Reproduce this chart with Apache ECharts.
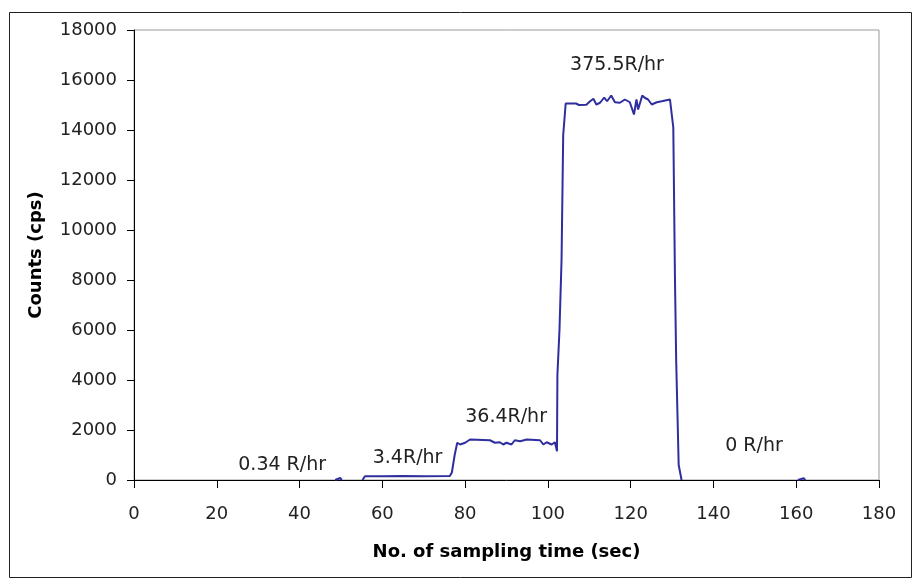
<!DOCTYPE html>
<html>
<head>
<meta charset="utf-8">
<script src="https://cdn.jsdelivr.net/npm/echarts@6/dist/echarts.min.js"></script>
<style>
  html, body { margin: 0; padding: 0; background: #fff; }
  #chart { width: 915px; height: 588px; }
</style>
</head>
<body>
<div id="chart"></div>
<script>
// sampling time (sec) and counts (cps), null = gap (count at 0, hidden by axis)
const times = [
  48.6, 49.0, 49.8, 50.2, 52,
  55.2, 55.8, 60, 65, 70, 76.3, 76.8, 77.5, 78.1, 78.8, 80.0, 81.2, 86.0, 87.2, 88.4,
  89.2, 90.0, 91.2, 92.0, 93.3, 94.9, 98.1, 98.9, 99.7, 100.9, 101.7, 102.2, 102.3,
  102.8, 103.3, 103.7, 104.3, 106.8, 107.5, 109.3, 110.2, 111.0, 111.7, 112.6, 113.6,
  114.3, 115.3, 116.2, 117.4, 118.6, 119.8, 120.8, 121.4, 121.8, 122.8, 123.4, 124.2,
  125.1, 126.3, 127.5, 129.5, 129.9, 130.3, 130.7, 131.0, 131.6, 132.3, 140,
  160.4, 160.8, 161.8, 162.2
]
const counts = [
  0, 80, 80, 0, null,
  0, 150, 150, 160, 150, 160, 300, 1020, 1490, 1420, 1490, 1620, 1590, 1490, 1510,
  1420, 1490, 1420, 1590, 1550, 1620, 1590, 1420, 1510, 1420, 1510, 1150, 4200,
  6000, 8800, 13800, 15060, 15060, 15000, 15010, 15150, 15250, 15020, 15090, 15300,
  15150, 15380, 15110, 15090, 15220, 15110, 14620, 15220, 14820, 15380, 15290, 15220,
  15020, 15110, 15150, 15220, 15150, 14100, 8100, 4750, 600, 0, null,
  0, 70, 70, 0
]

// dose-rate labels, placed in data units
const doseLabels = ['0.34 R/hr', '3.4R/hr', '36.4R/hr', '375.5R/hr', '0 R/hr']
const doseX = [35.8, 66.1, 89.9, 116.7, 149.8]
const doseY = [580, 860, 2500, 16580, 1340]

const xTicks = { min: 0, max: 180, step: 20 }
const yTicks = { min: 0, max: 18000, step: 2000 }

const font = 'DejaVu Sans, Verdana, sans-serif'
const chart = echarts.init(document.getElementById('chart'))

const seriesData = times.map((t, i) => [t, counts[i]])
const labelData = doseLabels.map((name, i) => ({
  name,
  coord: [doseX[i], doseY[i]],
}))

chart.setOption({
  animation: false,
  backgroundColor: '#fff',
  graphic: [{
    type: 'rect',
    shape: { x: 9.5, y: 12.5, width: 902, height: 565 },
    style: { fill: 'none', stroke: '#222', lineWidth: 1 },
    silent: true,
  }],
  grid: {
    left: 134,
    top: 30,
    width: 745,
    height: 450,
    show: true,
    borderColor: '#9a9a9a', // 上、右边框是灰色
    borderWidth: 1,
  },
  xAxis: {
    type: 'value',
    min: xTicks.min,
    max: xTicks.max,
    interval: xTicks.step,
    name: 'No. of sampling time (sec)',
    nameLocation: 'middle',
    nameGap: 63,
    nameTextStyle: { fontFamily: font, fontSize: 18, fontWeight: 'bold', color: '#000' },
    axisLine: { show: true, lineStyle: { color: '#000', width: 1 } },
    axisTick: { show: true, inside: false, length: 8, lineStyle: { color: '#000' } },
    axisLabel: { margin: 25, fontFamily: font, fontSize: 18, color: '#222' },
    splitLine: { show: false },
  },
  yAxis: {
    type: 'value',
    min: yTicks.min,
    max: yTicks.max,
    interval: yTicks.step,
    name: 'Counts (cps)',
    nameLocation: 'middle',
    nameGap: 89,
    nameRotate: 90,
    nameTextStyle: { fontFamily: font, fontSize: 18, fontWeight: 'bold', color: '#000' },
    axisLine: { show: true, lineStyle: { color: '#000', width: 1 } },
    axisTick: { show: true, inside: false, length: 7, lineStyle: { color: '#000' } },
    axisLabel: {
      margin: 17,
      fontFamily: font,
      fontSize: 18,
      color: '#222',
      formatter: (v) => String(v), // 不要千分位逗号
    },
    splitLine: { show: false },
  },
  series: [{
    type: 'line',
    data: seriesData,
    showSymbol: false,
    connectNulls: false,
    lineStyle: { color: '#2e2e9e', width: 2 },
    itemStyle: { color: '#2e2e9e' },
    markPoint: {
      symbol: 'circle',
      symbolSize: 0,
      silent: true,
      label: {
        show: true,
        position: 'inside',
        formatter: (p) => p.name,
        fontFamily: font,
        fontSize: 19,
        color: '#222',
      },
      data: labelData,
    },
  }],
})
</script>
</body>
</html>
